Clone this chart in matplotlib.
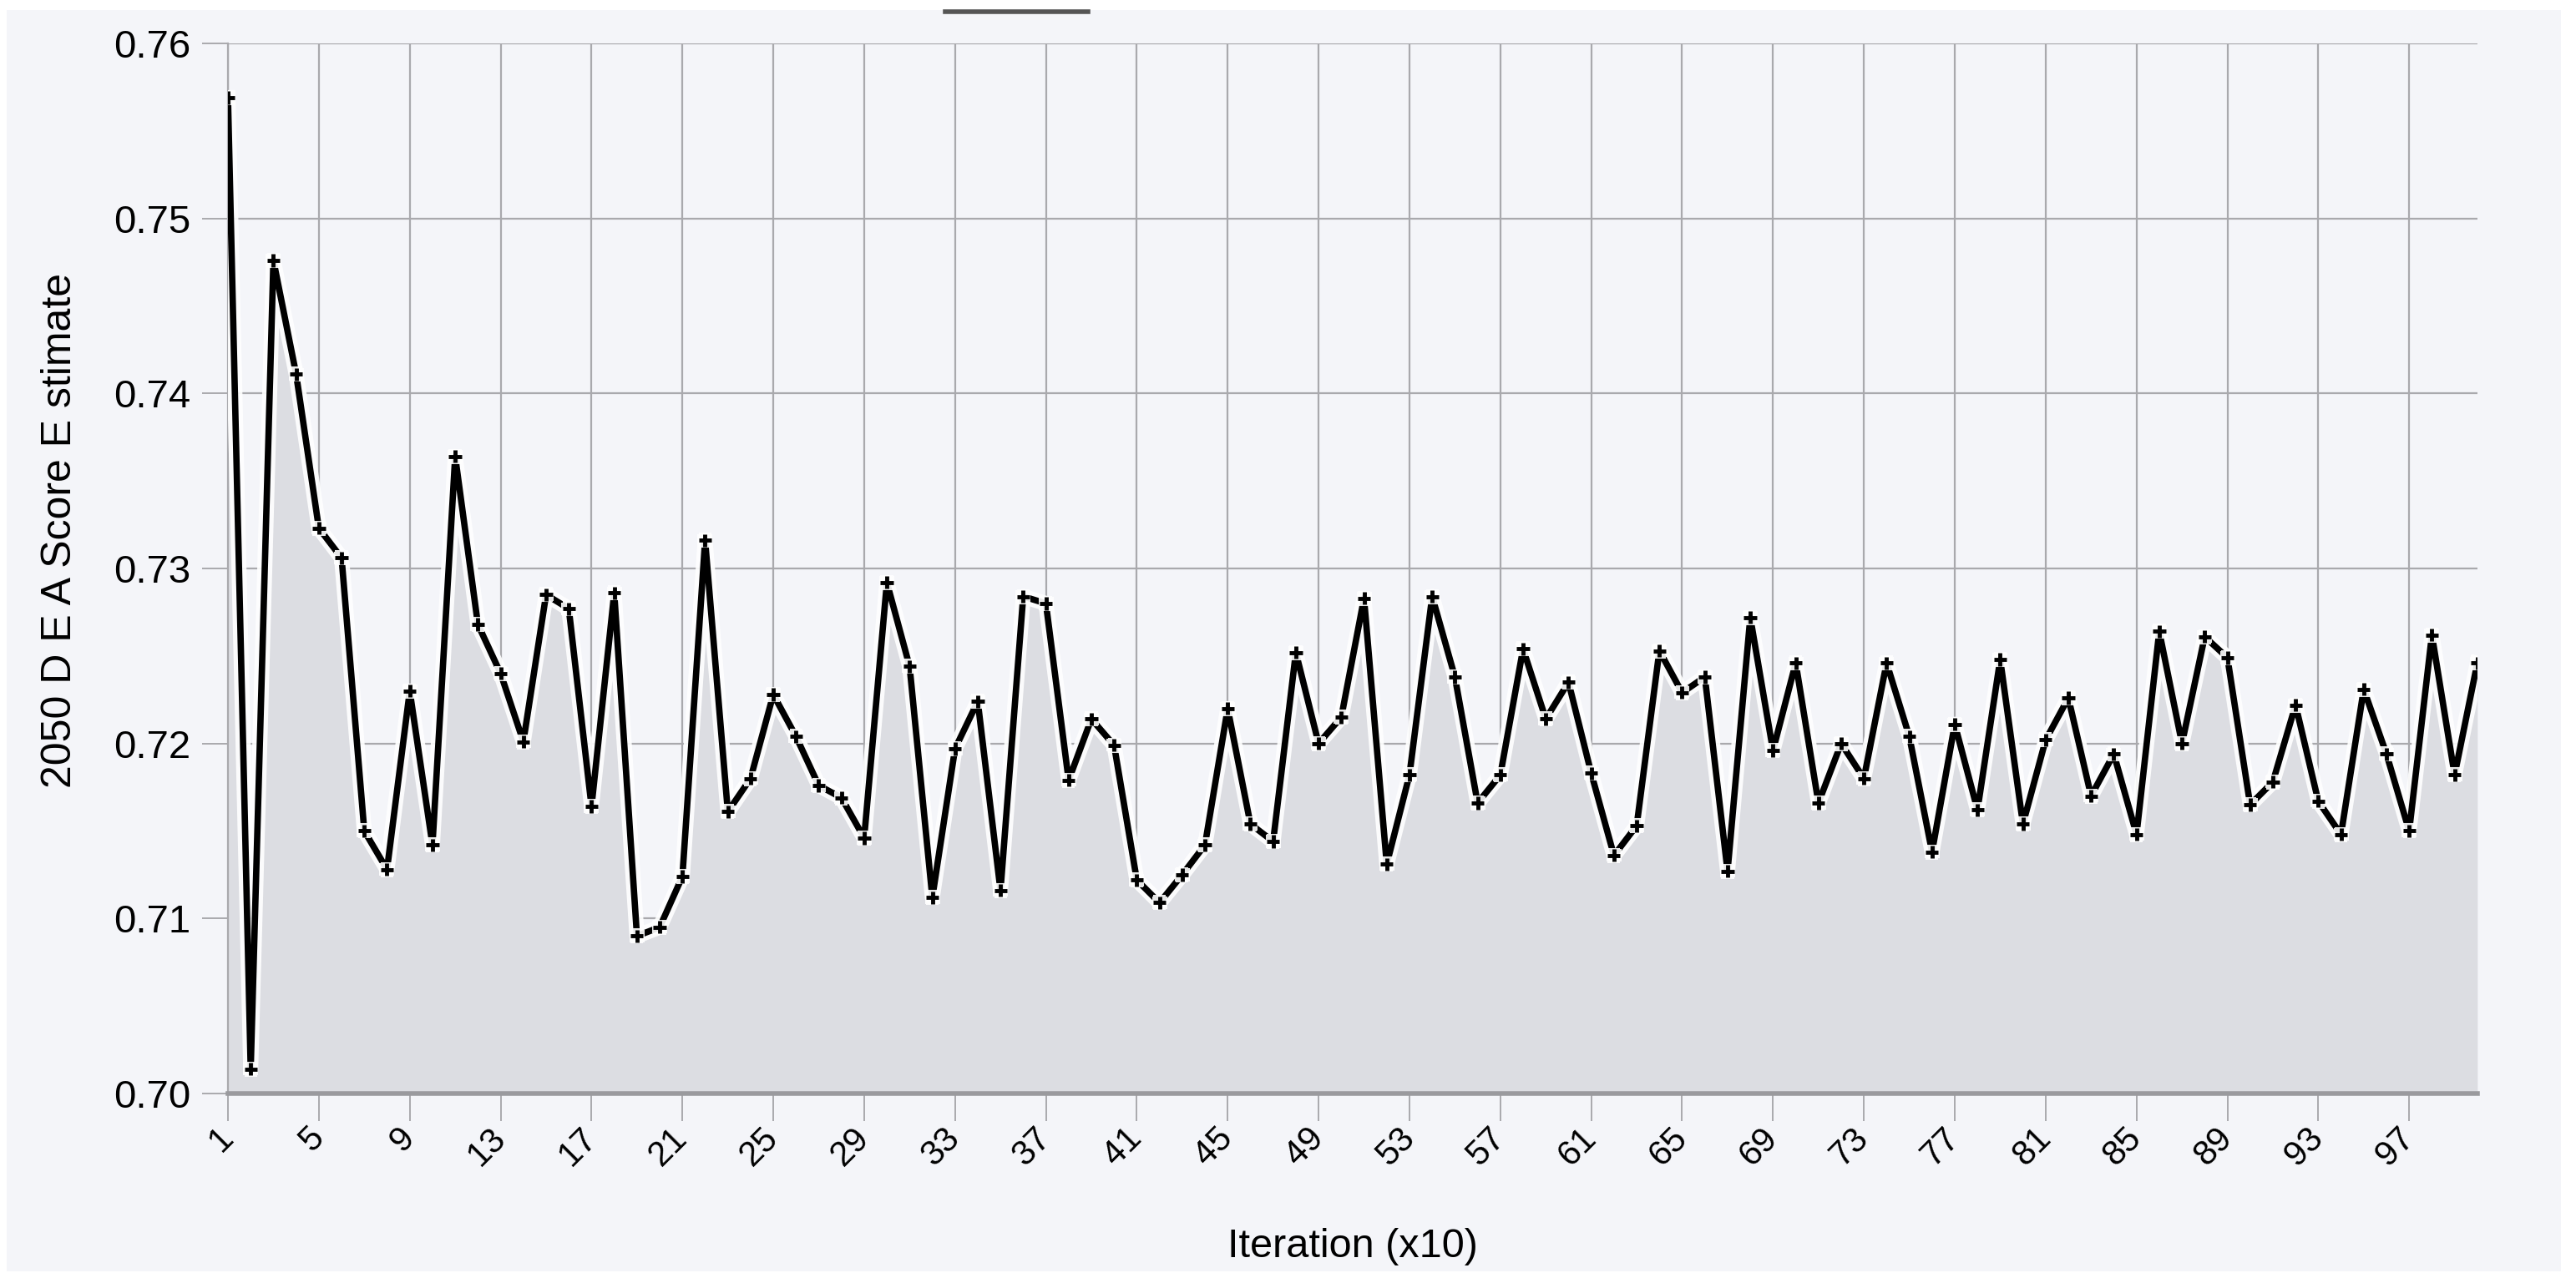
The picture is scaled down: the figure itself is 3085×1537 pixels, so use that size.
import numpy as np
from matplotlib import pyplot as plt
from matplotlib.lines import Line2D
from matplotlib.patches import Rectangle
import matplotlib.patheffects as pe

# iterations (x10) and the estimated score for each
iterations = np.arange(1, 101)
scores = [0.7569, 0.7014, 0.7476, 0.7411, 0.7323, 0.7306, 0.7150, 0.7128, 0.7230, 0.7142,
          0.7364, 0.7268, 0.7240, 0.7201, 0.7285, 0.7277, 0.7164, 0.7286, 0.7090, 0.7095,
          0.7124, 0.7316, 0.7161, 0.7180, 0.7228, 0.7204, 0.7176, 0.7169, 0.7146, 0.7292,
          0.7244, 0.7112, 0.7197, 0.7224, 0.7116, 0.7284, 0.7280, 0.7179, 0.7214, 0.7199,
          0.7122, 0.7109, 0.7125, 0.7142, 0.7220, 0.7154, 0.7144, 0.7252, 0.7200, 0.7215,
          0.7283, 0.7131, 0.7182, 0.7284, 0.7238, 0.7166, 0.7182, 0.7254, 0.7214, 0.7235,
          0.7183, 0.7136, 0.7153, 0.7253, 0.7229, 0.7238, 0.7127, 0.7272, 0.7196, 0.7246,
          0.7166, 0.7200, 0.7180, 0.7246, 0.7204, 0.7138, 0.7211, 0.7162, 0.7248, 0.7154,
          0.7202, 0.7226, 0.7170, 0.7194, 0.7148, 0.7264, 0.7200, 0.7261, 0.7249, 0.7165,
          0.7178, 0.7222, 0.7167, 0.7148, 0.7231, 0.7194, 0.7150, 0.7262, 0.7182, 0.7246]
xTicks = list(range(1, 101, 4))
yTicks = [0.70, 0.71, 0.72, 0.73, 0.74, 0.75, 0.76]

bg = '#f4f5f9'
gridCol = '#a9a9ad'

plt.rcParams['font.family'] = ['Liberation Sans', 'DejaVu Sans']

fig = plt.figure(figsize=(30.85, 15.37), dpi=100, facecolor='white')
# light background panel, leaving a thin white border like the screenshot
fig.add_artist(Rectangle((0.0026, 0.009), 0.9916, 0.983, transform=fig.transFigure,
                         facecolor=bg, edgecolor='none', zorder=-10))
# cut-off legend line at the top
fig.add_artist(Line2D([1132 / 3085, 1303 / 3085], [1 - 14 / 1537, 1 - 14 / 1537],
                      transform=fig.transFigure, color='#555555', linewidth=4))

ax = fig.add_axes([0.0885, 0.1477, 0.9617 - 0.0885, 0.9662 - 0.1477])
ax.set_facecolor(bg)

# area under the line
ax.fill_between(iterations, scores, 0.70, color='#dcdde2', linewidth=0, zorder=1)

# the line with a white halo and small cross markers
line, = ax.plot(iterations, scores, color='black', linewidth=5.5, marker='+',
                markersize=11, markeredgewidth=3.5, zorder=3)
line.set_path_effects([pe.Stroke(linewidth=13, foreground='white', alpha=0.9), pe.Normal()])

ax.set_xlim(1, 100)
ax.set_ylim(0.70, 0.76)
ax.set_xticks(xTicks)
ax.set_xticklabels([str(t) for t in xTicks], rotation=45, ha='right', va='center',
                   rotation_mode='anchor', fontsize=30)
ax.set_yticks(yTicks)
ax.set_yticklabels(['%.2f' % t for t in yTicks], fontsize=34)

ax.grid(True, color=gridCol, linewidth=1.6, zorder=0)
ax.set_axisbelow(True)
ax.tick_params(axis='x', length=24, width=1.4, color=gridCol, pad=10)
ax.tick_params(axis='y', length=22, width=1.4, color=gridCol, pad=10)

for s in ['top', 'right']:
    ax.spines[s].set_visible(False)
ax.spines['left'].set_color(gridCol)
ax.spines['left'].set_linewidth(1.6)
ax.spines['bottom'].set_color('#9a9a9e')
ax.spines['bottom'].set_linewidth(4)

ax.set_xlabel('Iteration (x10)', fontsize=35)
ax.xaxis.set_label_coords(0.5, -0.128)
ax.set_ylabel('2050 D E A Score E stimate', fontsize=36)
ax.yaxis.set_label_coords(-0.066, 0.536)

plt.savefig('out.png', dpi=100, facecolor='white')
